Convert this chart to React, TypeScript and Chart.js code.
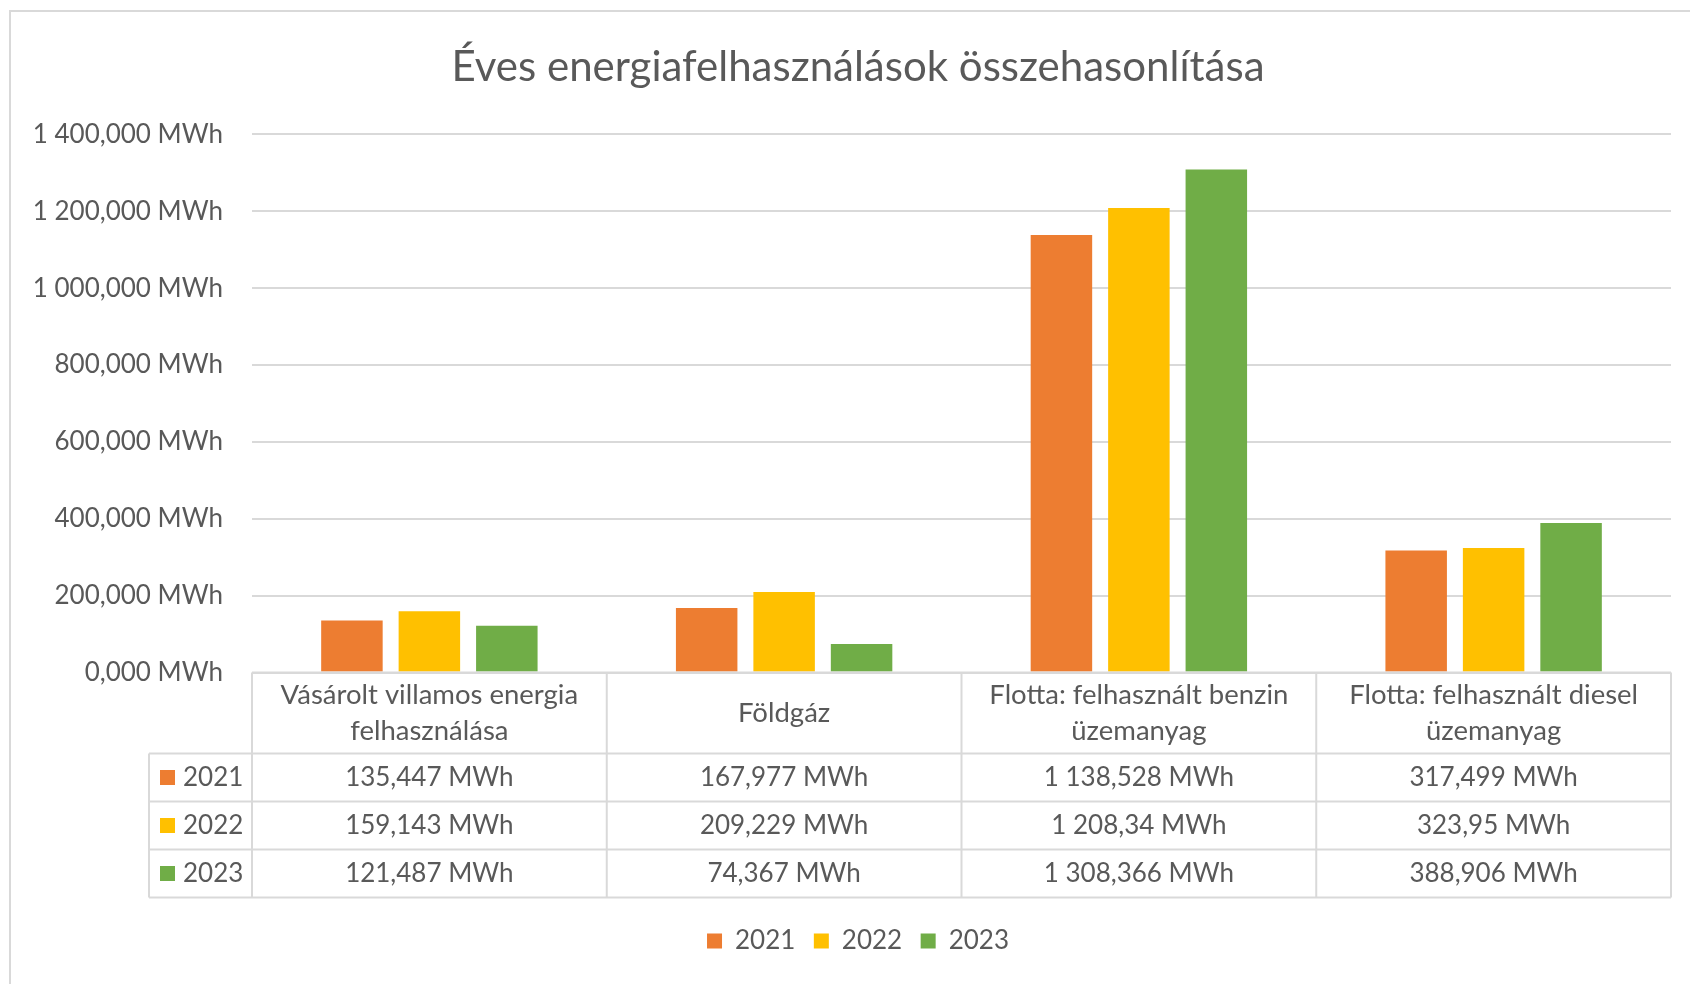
import React, { useEffect, useRef } from 'react';
import { Chart, registerables } from 'chart.js';

Chart.register(...registerables);

// ---- data ----
const TITLE = 'Éves energiafelhasználások összehasonlítása';
const CATEGORIES: string[][] = [
  ['Vásárolt villamos energia', 'felhasználása'],
  ['Földgáz'],
  ['Flotta: felhasznált benzin', 'üzemanyag'],
  ['Flotta: felhasznált diesel', 'üzemanyag'],
];
const SERIES_NAMES = ['2021', '2022', '2023'];
const VALUES_2021 = [135.447, 167.977, 1138.528, 317.499];
const VALUES_2022 = [159.143, 209.229, 1208.34, 323.95];
const VALUES_2023 = [121.487, 74.367, 1308.366, 388.906];
const SERIES_VALUES = [VALUES_2021, VALUES_2022, VALUES_2023];
const SERIES_COLORS = ['#ED7D31', '#FFC000', '#70AD47'];
const Y_MIN = 0;
const Y_MAX = 1400;
const Y_STEP = 200;
const UNIT = 'MWh';

// ---- style ----
const FONT = 'Lato';
const TEXT = '#595959';
const LINE = '#d9d9d9';
const TICK_SIZE = 26;
const HEADER_SIZE = 27.5;
const TITLE_SIZE = 42;

function huNumber(v: number, fixed: boolean): string {
  const s = Number(v).toFixed(3);
  let [int, dec] = s.split('.');
  if (!fixed) dec = dec.replace(/0+$/, '');
  int = int.replace(/\B(?=(\d{3})+(?!\d))/g, ' ');
  return dec ? `${int},${dec}` : int;
}

const HEADER_H = 81;
const ROW_H = 48;
const TABLE_GAP = 12;

const backgroundPlugin = {
  id: 'bgBorder',
  beforeDraw(chart: any) {
    const { ctx, width, height } = chart;
    ctx.save();
    ctx.fillStyle = '#ffffff';
    ctx.fillRect(0, 0, width, height);
    ctx.strokeStyle = LINE;
    ctx.lineWidth = 2;
    ctx.strokeRect(10, 11, width + 40, height + 40);
    ctx.restore();
  },
};

const tablePlugin = {
  id: 'dataTable',
  afterDraw(chart: any) {
    const { ctx, chartArea } = chart;
    const xs = chart.scales.x;
    const n = CATEGORIES.length;
    const colW = (chartArea.right - chartArea.left) / n;
    const top = chartArea.bottom;
    const headerBottom = top + HEADER_H;
    const rows = SERIES_NAMES.length;
    const bottom = headerBottom + ROW_H * rows;
    const keyLeft = 149;

    ctx.save();
    ctx.strokeStyle = LINE;
    ctx.lineWidth = 2;
    ctx.beginPath();
    ctx.moveTo(chartArea.left, top);
    ctx.lineTo(chartArea.right, top);
    for (let r = 0; r <= rows; r++) {
      const y = headerBottom + r * ROW_H;
      ctx.moveTo(keyLeft, y);
      ctx.lineTo(chartArea.right, y);
    }
    for (let i = 0; i <= n; i++) {
      const x = chartArea.left + i * colW;
      ctx.moveTo(x, top);
      ctx.lineTo(x, bottom);
    }
    ctx.moveTo(keyLeft, headerBottom);
    ctx.lineTo(keyLeft, bottom);
    ctx.stroke();

    ctx.fillStyle = TEXT;
    ctx.textAlign = 'center';
    ctx.textBaseline = 'middle';
    ctx.font = `${HEADER_SIZE}px ${FONT}`;
    const lineGap = 36;
    CATEGORIES.forEach((lines, i) => {
      const cx = xs.getPixelForValue(i);
      const y0 = top + HEADER_H / 2 - ((lines.length - 1) * lineGap) / 2;
      lines.forEach((ln, k) => ctx.fillText(ln, cx, y0 + k * lineGap));
    });

    ctx.font = `${TICK_SIZE}px ${FONT}`;
    SERIES_VALUES.forEach((vals, r) => {
      const yc = headerBottom + r * ROW_H + ROW_H / 2;
      vals.forEach((v, i) => {
        ctx.fillText(`${huNumber(v, false)} ${UNIT}`, xs.getPixelForValue(i), yc);
      });
      ctx.fillStyle = SERIES_COLORS[r];
      ctx.fillRect(160, yc - 7.5, 15, 15);
      ctx.fillStyle = TEXT;
      ctx.textAlign = 'left';
      ctx.fillText(SERIES_NAMES[r], 183, yc);
      ctx.textAlign = 'center';
    });
    ctx.restore();
  },
};

export default function App() {
  const canvasRef = useRef<HTMLCanvasElement | null>(null);

  useEffect(() => {
    let chart: Chart | null = null;
    let cancelled = false;
    const build = () => {
      if (cancelled || !canvasRef.current) return;
      chart = new Chart(canvasRef.current, {
        type: 'bar',
        data: {
          labels: CATEGORIES,
          datasets: SERIES_NAMES.map((name, i) => ({
            label: name,
            data: SERIES_VALUES[i],
            backgroundColor: SERIES_COLORS[i],
            borderWidth: 0,
            barPercentage: 0.794,
            categoryPercentage: 0.655,
          })),
        },
        options: {
          responsive: false,
          animation: false,
          layout: { padding: { left: 45, right: 19, top: 0, bottom: 20 } },
          plugins: {
            title: {
              display: true,
              text: TITLE,
              color: TEXT,
              font: { family: FONT, size: TITLE_SIZE, weight: 'normal' },
              padding: { top: 42, bottom: 42 },
            },
            legend: {
              position: 'bottom',
              labels: {
                color: TEXT,
                font: { family: FONT, size: TICK_SIZE },
                boxWidth: 15,
                boxHeight: 15,
                padding: 18.5,
              },
            },
            tooltip: { enabled: false },
          },
          scales: {
            x: {
              grid: { display: false },
              border: { display: false },
              ticks: { display: false },
              afterFit: (s: any) => {
                s.height = HEADER_H + ROW_H * SERIES_NAMES.length + TABLE_GAP;
              },
            },
            y: {
              min: Y_MIN,
              max: Y_MAX,
              ticks: {
                stepSize: Y_STEP,
                padding: 29,
                color: TEXT,
                font: { family: FONT, size: TICK_SIZE },
                callback: (v: any) => `${huNumber(Number(v), true)} ${UNIT}`,
              },
              grid: { color: LINE, lineWidth: 2, drawTicks: false },
              border: { display: false },
              afterFit: (s: any) => {
                s.width = 207;
                // let the long tick labels extend left of the axis box
                s._computeLabelArea = () => undefined;
              },
            },
          },
        } as any,
        plugins: [backgroundPlugin, tablePlugin],
      });
    };
    const fonts: any = (document as any).fonts;
    if (fonts && fonts.load) {
      Promise.all([
        fonts.load(`${TICK_SIZE}px ${FONT}`),
        fonts.load(`${TITLE_SIZE}px ${FONT}`),
      ])
        .catch(() => undefined)
        .then(build);
    } else build();
    return () => {
      cancelled = true;
      if (chart) chart.destroy();
    };
  }, []);

  return (
    <div style={{ position: 'absolute', left: 0, top: 0, width: 1690, height: 984, background: '#fff' }}>
      <canvas ref={canvasRef} width={1690} height={984} style={{ display: 'block' }} />
    </div>
  );
}
